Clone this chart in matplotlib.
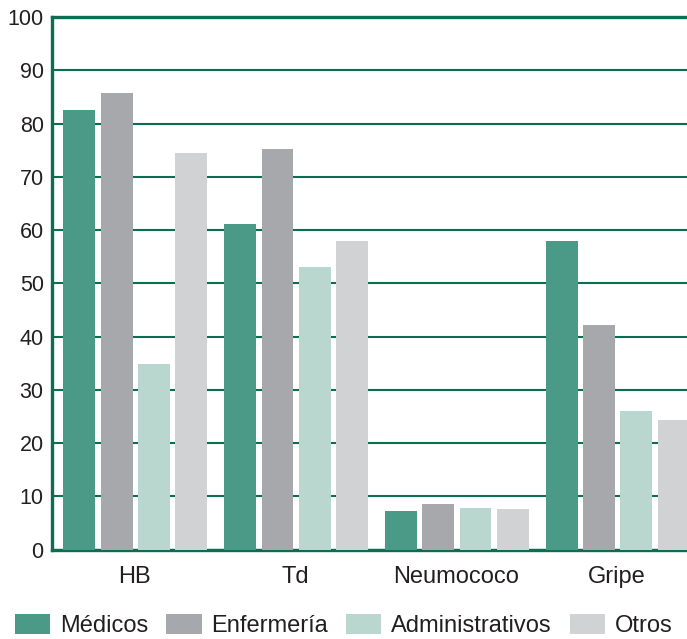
import numpy as np
import matplotlib.pyplot as plt

plt.rcParams['font.family'] = ['Liberation Sans', 'DejaVu Sans']

vacunas = ['HB', 'Td', 'Neumococo', 'Gripe']
grupos = ['Médicos', 'Enfermería', 'Administrativos', 'Otros']
medicos = [82.5, 61.1, 7.2, 57.9]
enfermeria = [85.7, 75.2, 8.5, 42.2]
administrativos = [34.8, 53.1, 7.8, 26.0]
otros = [74.5, 57.9, 7.6, 24.3]

colores = ['#4a9a87', '#a7a8ab', '#b9d7cf', '#d1d2d4']
verde = '#0b6e52'
texto = '#231f20'

fig = plt.figure(figsize=(6.87, 6.39), dpi=100)
ax = fig.add_axes([0.0757, 0.140, 0.9243, 0.833])

x = np.arange(len(vacunas))
paso = 0.232
ancho = 0.199
series = [medicos, enfermeria, administrativos, otros]
for i, (vals, nombre, c) in enumerate(zip(series, grupos, colores)):
    ax.bar(x + (i - 1.5) * paso + 0.006, vals, width=ancho, color=c, label=nombre, zorder=3)

ax.set_xlim(-0.513, 3.438)
ax.set_ylim(0, 100)
ax.set_yticks(range(0, 101, 10))
ax.set_xticks(x)
ax.set_xticklabels(vacunas)
ax.yaxis.grid(True, color=verde, linewidth=1.5, zorder=0)
ax.set_axisbelow(True)

for lado in ['left', 'bottom', 'top']:
    ax.spines[lado].set_color(verde)
    ax.spines[lado].set_linewidth(2.4)
ax.spines['right'].set_visible(False)

ax.tick_params(axis='y', length=0, pad=6, labelsize=15.5, labelcolor=texto)
ax.tick_params(axis='x', length=0, pad=12, labelsize=17, labelcolor=texto)

fig.legend(loc='lower left', bbox_to_anchor=(0.008, -0.012), ncol=4, frameon=False,
           fontsize=17, handlelength=1.5, handleheight=0.9, handletextpad=0.42,
           columnspacing=0.75, borderaxespad=0, labelcolor=texto)

fig.savefig('out.png', dpi=100)
